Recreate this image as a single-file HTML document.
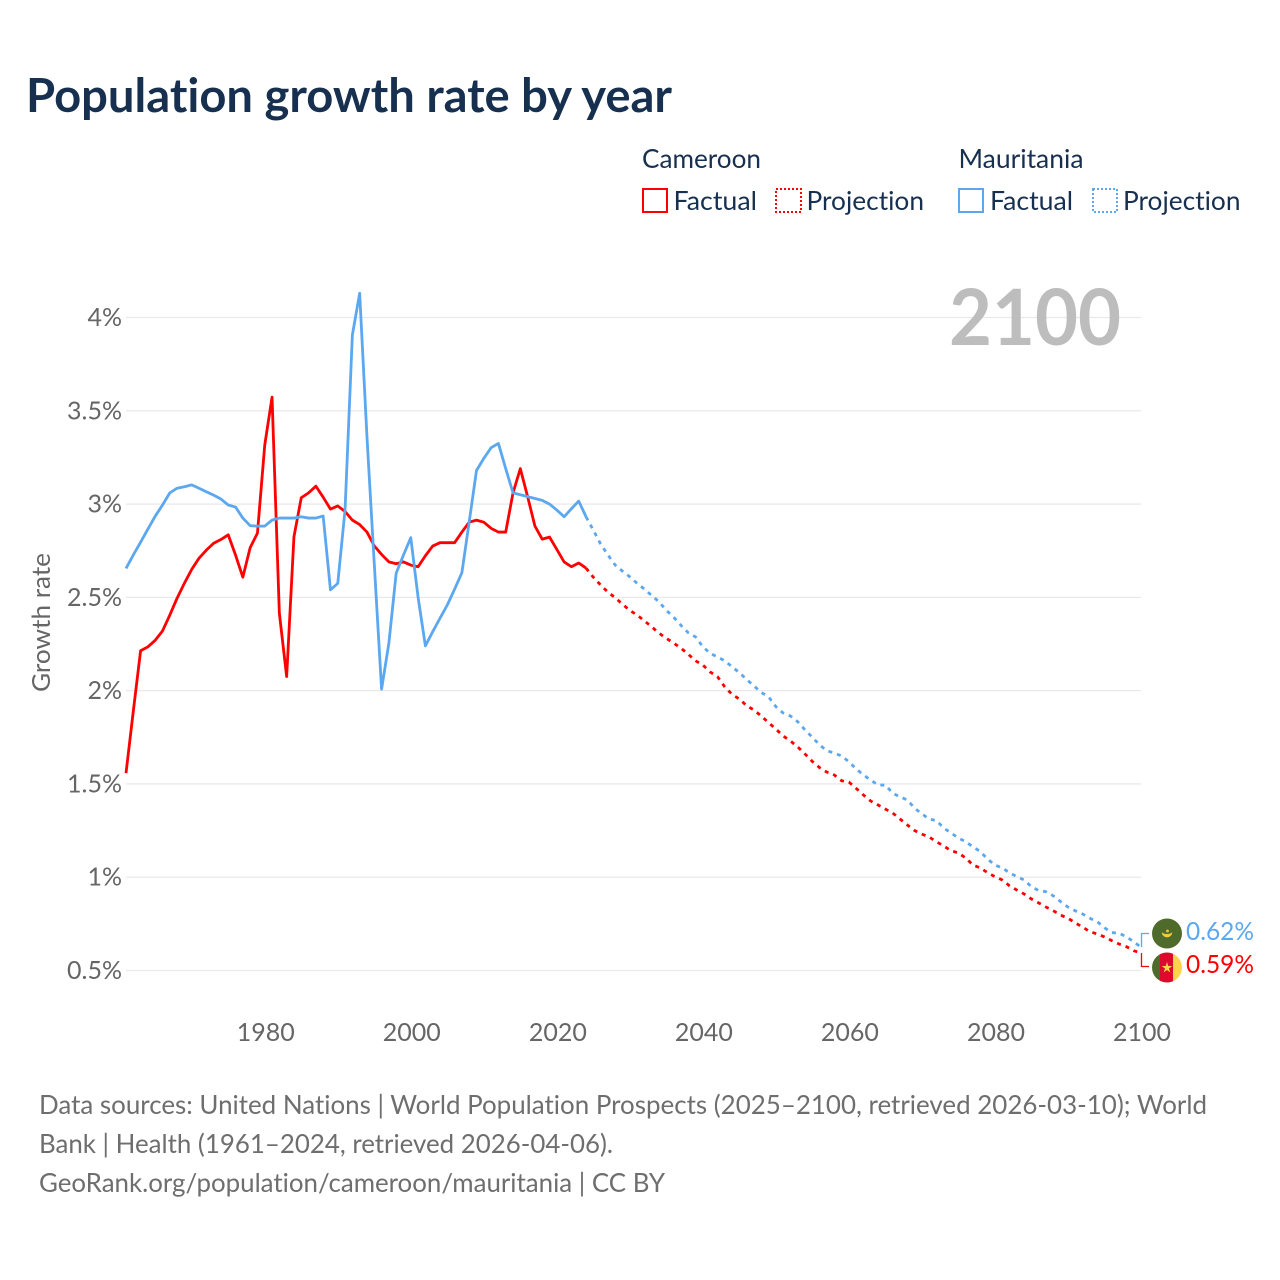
<!DOCTYPE html>
<html lang="en">
<head>
<meta charset="utf-8">
<title>Population growth rate by year</title>
<style>
html,body{margin:0;padding:0;background:#fff;width:1280px;height:1280px;overflow:hidden}
svg{display:block}
text{font-family:"Lato","Liberation Sans",sans-serif;font-variant-ligatures:none;font-feature-settings:"liga" 0,"clig" 0}
.legend{font-size:26px;fill:#18304f}
.tick{font-size:25px;fill:#666}
.foot{font-size:26px;fill:#6e6e6e}
</style>
</head>
<body>
<svg id="chart" width="1280" height="1280" viewBox="0 0 1280 1280" xmlns="http://www.w3.org/2000/svg">
  <defs>
    <clipPath id="clip-mr"><circle cx="1167" cy="933.5" r="15"/></clipPath>
    <clipPath id="clip-cm"><circle cx="1167" cy="967.5" r="15"/></clipPath>
  </defs>
  <rect width="1280" height="1280" fill="#fff"/>
  <text x="26" y="112" font-size="47" font-weight="700" fill="#18304f" textLength="646" lengthAdjust="spacingAndGlyphs">Population growth rate by year</text>

  <g>
    <text class="legend" x="642" y="168" textLength="119" lengthAdjust="spacingAndGlyphs">Cameroon</text>
    <text class="legend" x="958.5" y="168" textLength="125" lengthAdjust="spacingAndGlyphs">Mauritania</text>
    <g>
      <rect x="643" y="189" width="24" height="23" fill="none" stroke="#ff0000" stroke-width="2"/>
      <text class="legend" x="673.5" y="210" textLength="83.5" lengthAdjust="spacingAndGlyphs">Factual</text>
    </g>
    <g>
      <rect x="776" y="189" width="25" height="23" fill="none" stroke="#ff0000" stroke-width="2" stroke-dasharray="2,2"/>
      <text class="legend" x="806.5" y="210" textLength="117.5" lengthAdjust="spacingAndGlyphs">Projection</text>
    </g>
    <g>
      <rect x="959" y="189" width="24" height="23" fill="none" stroke="#5ba7f0" stroke-width="2"/>
      <text class="legend" x="990" y="210" textLength="83" lengthAdjust="spacingAndGlyphs">Factual</text>
    </g>
    <g>
      <rect x="1093" y="189" width="24" height="23" fill="none" stroke="#5ba7f0" stroke-width="2" stroke-dasharray="2,2"/>
      <text class="legend" x="1123" y="210" textLength="117.5" lengthAdjust="spacingAndGlyphs">Projection</text>
    </g>
  </g>

  <g id="grid"></g>
  <text x="949" y="345" font-size="78" font-weight="700" fill="#bdbdbd" textLength="172" lengthAdjust="spacingAndGlyphs">2100</text>
  <g id="yticks"></g>
  <g id="xticks"></g>
  <text transform="translate(50,692) rotate(-90)" font-size="25" fill="#666" textLength="139" lengthAdjust="spacingAndGlyphs">Growth rate</text>
  <g id="lines"></g>

  <g>
    <path d="M1141.5 947V933.5H1149" fill="none" stroke="#5ba7f0" stroke-width="1.3"/>
    <g clip-path="url(#clip-mr)">
      <rect x="1150" y="916" width="34" height="34" fill="#4f6b2b"/>
      <path d="M1162 932.5a5 4.6 0 0 0 10 0a5.5 3 0 0 1-10 0z" fill="#f3c83c" stroke="#f3c83c" stroke-width=".5"/>
      <circle cx="1167.5" cy="931" r="1.4" fill="#f3c83c"/>
    </g>
    <text x="1186" y="940" font-size="25" fill="#5ba7f0" textLength="68" lengthAdjust="spacingAndGlyphs">0.62%</text>
  </g>
  <g>
    <path d="M1141.5 953V966.5H1149" fill="none" stroke="#ff0000" stroke-width="1.3"/>
    <g clip-path="url(#clip-cm)">
      <rect x="1152" y="952" width="9" height="31" fill="#4f6b2b"/>
      <rect x="1160" y="952" width="13" height="31" fill="#dc0a2d"/>
      <rect x="1173" y="952" width="9" height="31" fill="#ffd24d"/>
      <polygon points="1167,962 1168.3,966 1172.3,966 1169,968.5 1170.3,972.5 1167,970 1163.7,972.5 1165,968.5 1161.7,966 1165.7,966" fill="#ffd24d"/>
    </g>
    <text x="1186" y="973" font-size="25" fill="#ff0000" textLength="68" lengthAdjust="spacingAndGlyphs">0.59%</text>
  </g>

  <g>
    <text class="foot" x="39" y="1114" textLength="1168" lengthAdjust="spacingAndGlyphs">Data sources: United Nations | World Population Prospects (2025–2100, retrieved 2026-03-10); World</text>
    <text class="foot" x="39" y="1153" textLength="574" lengthAdjust="spacingAndGlyphs">Bank | Health (1961–2024, retrieved 2026-04-06).</text>
    <text class="foot" x="39" y="1192" textLength="626" lengthAdjust="spacingAndGlyphs">GeoRank.org/population/cameroon/mauritania | CC BY</text>
  </g>
</svg>
<script>
var xTickYears = [1980, 2000, 2020, 2040, 2060, 2080, 2100];
var yTickValues = [0.5, 1, 1.5, 2, 2.5, 3, 3.5, 4];
var yTickLabels = ['0.5%', '1%', '1.5%', '2%', '2.5%', '3%', '3.5%', '4%'];
var factualStartYear = 1961;
var projectionStartYear = 2024;
var cameroonFactual = [1.558,1.89,2.214,2.235,2.27,2.32,2.405,2.496,2.576,2.65,2.71,2.753,2.79,2.81,2.835,2.727,2.608,2.766,2.844,3.316,3.573,2.415,2.075,2.825,3.034,3.06,3.096,3.037,2.973,2.99,2.96,2.914,2.89,2.85,2.776,2.73,2.69,2.68,2.69,2.673,2.664,2.723,2.775,2.793,2.793,2.793,2.85,2.903,2.914,2.903,2.87,2.85,2.85,3.06,3.19,3.04,2.882,2.812,2.823,2.757,2.69,2.664,2.684,2.657];
var mauritaniaFactual = [2.655,2.727,2.796,2.866,2.935,2.995,3.06,3.085,3.093,3.103,3.085,3.066,3.048,3.027,2.995,2.984,2.925,2.884,2.882,2.882,2.914,2.925,2.925,2.925,2.932,2.925,2.925,2.936,2.54,2.575,2.97,3.906,4.13,3.36,2.68,2.008,2.255,2.63,2.727,2.82,2.5,2.24,2.316,2.388,2.459,2.544,2.632,2.905,3.18,3.245,3.302,3.325,3.19,3.06,3.05,3.04,3.03,3.02,3.0,2.968,2.932,2.975,3.016,2.932];
var cameroonProjection = [2.657,2.608,2.566,2.528,2.498,2.463,2.43,2.405,2.374,2.342,2.308,2.28,2.255,2.228,2.195,2.16,2.137,2.1,2.075,2.02,1.98,1.955,1.919,1.896,1.864,1.828,1.794,1.757,1.73,1.698,1.66,1.62,1.587,1.563,1.548,1.517,1.51,1.476,1.44,1.408,1.387,1.365,1.344,1.312,1.28,1.25,1.231,1.215,1.19,1.167,1.142,1.13,1.103,1.065,1.05,1.024,1.003,0.985,0.954,0.931,0.91,0.883,0.862,0.84,0.82,0.797,0.78,0.755,0.733,0.708,0.696,0.68,0.66,0.642,0.628,0.606,0.594];
var mauritaniaProjection = [2.932,2.86,2.786,2.727,2.673,2.64,2.61,2.575,2.544,2.51,2.476,2.43,2.394,2.35,2.31,2.288,2.235,2.2,2.18,2.16,2.128,2.096,2.06,2.025,1.99,1.967,1.914,1.88,1.864,1.833,1.789,1.75,1.708,1.678,1.665,1.65,1.619,1.58,1.548,1.52,1.494,1.494,1.45,1.431,1.414,1.37,1.339,1.312,1.303,1.263,1.237,1.21,1.19,1.163,1.137,1.097,1.065,1.05,1.024,1.003,0.985,0.949,0.928,0.922,0.90,0.869,0.84,0.82,0.803,0.78,0.762,0.729,0.703,0.70,0.681,0.654,0.625];

var SVG_NS = 'http://www.w3.org/2000/svg';
var plotLeft = 126, plotRight = 1141;
function xScale(year) {
  return plotLeft + (year - 1961) * (plotRight - plotLeft) / (2100 - 1961);
}
function yScale(value) {
  return 970.5 - (value - 0.5) * (970.5 - 317.5) / 3.5;
}

var grid = document.getElementById('grid');
var yticks = document.getElementById('yticks');
yTickValues.forEach(function (v, i) {
  var line = document.createElementNS(SVG_NS, 'line');
  
  
  line.setAttribute('x1', plotLeft);
  line.setAttribute('x2', plotRight);
  line.setAttribute('y1', yScale(v));
  line.setAttribute('y2', yScale(v));
  line.setAttribute('stroke', '#e9e9e9');
  line.setAttribute('stroke-width', '1.3');
  grid.appendChild(line);
  var label = document.createElementNS(SVG_NS, 'text');
  
  
  label.setAttribute('class', 'tick');
  label.setAttribute('x', 122);
  label.setAttribute('y', yScale(v) + 8.5);
  label.setAttribute('text-anchor', 'end');
  label.textContent = yTickLabels[i];
  yticks.appendChild(label);
});

var xticks = document.getElementById('xticks');
xTickYears.forEach(function (year) {
  var label = document.createElementNS(SVG_NS, 'text');
  
  
  label.setAttribute('class', 'tick');
  label.setAttribute('x', xScale(year) + 1);
  label.setAttribute('y', 1041);
  label.setAttribute('text-anchor', 'middle');
  label.textContent = year;
  xticks.appendChild(label);
});

function linePoints(startYear, values) {
  return values.map(function (v, i) {
    return xScale(startYear + i).toFixed(2) + ',' + yScale(v).toFixed(2);
  }).join(' ');
}

var lines = document.getElementById('lines');

var mauritaniaProjLine = document.createElementNS(SVG_NS, 'polyline');


mauritaniaProjLine.setAttribute('points', linePoints(projectionStartYear, mauritaniaProjection));
mauritaniaProjLine.setAttribute('fill', 'none');
mauritaniaProjLine.setAttribute('stroke', '#5ba7f0');
mauritaniaProjLine.setAttribute('stroke-width', '2.8');
mauritaniaProjLine.setAttribute('stroke-dasharray', '4,5');
lines.appendChild(mauritaniaProjLine);

var cameroonProjLine = document.createElementNS(SVG_NS, 'polyline');


cameroonProjLine.setAttribute('points', linePoints(projectionStartYear, cameroonProjection));
cameroonProjLine.setAttribute('fill', 'none');
cameroonProjLine.setAttribute('stroke', '#ff0000');
cameroonProjLine.setAttribute('stroke-width', '2.8');
cameroonProjLine.setAttribute('stroke-dasharray', '4,5');
lines.appendChild(cameroonProjLine);

var cameroonLine = document.createElementNS(SVG_NS, 'polyline');


cameroonLine.setAttribute('points', linePoints(factualStartYear, cameroonFactual));
cameroonLine.setAttribute('fill', 'none');
cameroonLine.setAttribute('stroke', '#ff0000');
cameroonLine.setAttribute('stroke-width', '2.8');
cameroonLine.setAttribute('stroke-linejoin', 'round');
lines.appendChild(cameroonLine);

var mauritaniaLine = document.createElementNS(SVG_NS, 'polyline');


mauritaniaLine.setAttribute('points', linePoints(factualStartYear, mauritaniaFactual));
mauritaniaLine.setAttribute('fill', 'none');
mauritaniaLine.setAttribute('stroke', '#5ba7f0');
mauritaniaLine.setAttribute('stroke-width', '2.8');
mauritaniaLine.setAttribute('stroke-linejoin', 'round');
lines.appendChild(mauritaniaLine);
</script>
</body>
</html>
